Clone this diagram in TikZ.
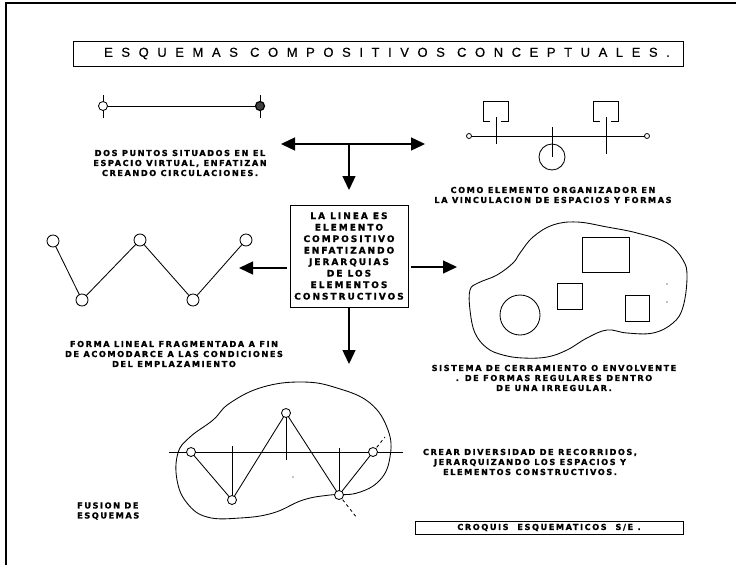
\documentclass[tikz,border=0pt]{standalone}
\usepackage{fontspec}
\setmainfont{DejaVu Sans}
\newfontfamily\capfont[LetterSpace=19, BoldFeatures={FakeBold=1.3}]{DejaVu Sans}
\newfontfamily\boxfont[LetterSpace=22, BoldFeatures={FakeBold=1.3}]{DejaVu Sans}
\newfontfamily\ttlfont[LetterSpace=66, FakeBold=0.4]{Liberation Sans}
\usetikzlibrary{arrows.meta,calc}
\begin{document}
\begin{tikzpicture}[x=1pt,y=-1pt,
  ln/.style={line width=0.85pt},
  arr/.style={line width=1.4pt,-{Triangle[length=14pt,width=13pt]}},
  dblarr/.style={line width=1.4pt,{Triangle[length=14pt,width=13pt]}-{Triangle[length=14pt,width=13pt]}},
  captxt/.style={font=\capfont\bfseries\fontsize{8.2}{10}\selectfont, align=center, inner sep=0pt},
  circ/.style={draw, fill=white, circle, line width=0.85pt, minimum size=12pt, inner sep=0pt},
  smallcirc/.style={draw, fill=white, circle, line width=0.8pt, minimum size=5pt, inner sep=0pt}]
\useasboundingbox (0,0) rectangle (736,565);
% frame
\draw[line width=2.2pt] (6,565) -- (6,3);
\draw[line width=1.3pt] (5,3) -- (736,3);
% title
\node[draw, line width=0.9pt, minimum width=610pt, minimum height=25pt, inner sep=0pt,
      font=\ttlfont\fontsize{13}{15}\selectfont] (title) at (378,53.5) {\hspace*{18pt}ESQUEMAS COMPOSITIVOS CONCEPTUALES.};
% top-left : two points
\coordinate (a1) at (103,106); \coordinate (a2) at (260,106);
\draw[ln] (a1) -- (a2);
\draw[ln] (103,95) -- (103,118);
\draw[ln] (260,95) -- (260,118);
\node[circ, minimum size=9pt] (p1) at (a1) {};
\node[circ, minimum size=9pt, line width=1.2pt, fill=black!75] (p2) at (a2) {};
\node[captxt] (dos) at (180,163) {DOS PUNTOS SITUADOS EN EL\\ESPACIO VIRTUAL, ENFATIZAN\\CREANDO CIRCULACIONES.};
% double arrow and down arrow
\coordinate (dl) at (281,144); \coordinate (dr) at (425,144);
\draw[dblarr] (dl) -- (dr);
\coordinate (dm) at (349,144); \coordinate (dt) at (349,190);
\draw[arr] (dm) -- (dt);
% central box
\node[draw, line width=0.9pt, minimum width=118pt, minimum height=102pt, inner sep=0pt, align=center,
      font=\boxfont\bfseries\fontsize{9}{11.5}\selectfont] (box) at (349,256)
      {LA LINEA ES\\ELEMENTO\\COMPOSITIVO\\ENFATIZANDO\\JERARQUIAS\\DE LOS\\ELEMENTOS\\CONSTRUCTIVOS};
\coordinate (lt) at (239,268); \coordinate (rt) at (457,267); \coordinate (bt) at (349,364);
\draw[arr, shorten <=3pt] (box.west |- lt) -- (lt);
\draw[arr, shorten <=3pt] (box.east |- rt) -- (rt);
\draw[arr] (box.south) -- (bt);
% top-right : organizer line
\coordinate (b1) at (469,136); \coordinate (b2) at (647,136);
\draw[ln] (b1) -- (b2);
\node[smallcirc] at (b1) {}; \node[smallcirc] at (b2) {};
\draw[ln] (490,121) -- (483,121) -- (483,101) -- (508,101) -- (508,121) -- (501,121);
\draw[ln] (496,117) -- (496,144);
\draw[ln] (600,121) -- (593,121) -- (593,101) -- (618,101) -- (618,121) -- (611,121);
\draw[ln] (606,117) -- (606,154);
\draw[ln] (552,127) -- (552,157);
\draw[ln] (552,157) circle (13);
\node[captxt] (como) at (553,195) {COMO ELEMENTO ORGANIZADOR EN\\LA VINCULACION DE ESPACIOS Y FORMAS};
% W line
\coordinate (w1) at (53,241); \coordinate (w2) at (82,300); \coordinate (w3) at (140,240);
\coordinate (w4) at (193,300); \coordinate (w5) at (246,240);
\draw[ln] (w1) -- (w2) -- (w3) -- (w4) -- (w5);
\foreach \p in {w1,w2,w3,w4,w5} \node[circ] at (\p) {};
\node[captxt] (forma) at (174,354) {FORMA LINEAL FRAGMENTADA A FIN\\DE ACOMODARCE A LAS CONDICIONES\\DEL EMPLAZAMIENTO};
% right blob
\draw[ln] plot[smooth cycle, tension=0.65] coordinates {(470,290) (478,283) (497,275) (513,263) (520,253) (533,237) (553,225) (577,222) (607,227) (637,233) (667,243) (683,260) (687,277) (683,307) (673,323) (653,333) (627,333) (607,330) (587,338) (567,350) (547,357) (523,358) (503,355) (487,348) (475,333) (470,310)};
\draw[ln] (582,237) rectangle (629,272);
\draw[ln] (557,283) rectangle (582,309);
\draw[ln] (625,295) rectangle (649,321);
\draw[ln] (520,315) circle (20);
\fill (667,284) circle (0.7); \fill (667,302) circle (0.7);
\node[captxt] (sis) at (554,378) {SISTEMA DE CERRAMIENTO O ENVOLVENTE\\. DE FORMAS REGULARES DENTRO\\DE UNA IRREGULAR.};
% bottom fusion
\draw[ln] plot[smooth cycle, tension=0.7] coordinates {(178,453) (190,437) (213,420) (230,403) (263,387) (303,382) (337,388) (370,403) (388,430) (390,457) (380,480) (357,493) (330,495) (303,500) (273,513) (240,518) (207,517) (187,503) (177,480)};
\coordinate (h1) at (169,452); \coordinate (h2) at (403,452);
\draw[ln] (h1) -- (h2);
\coordinate (f1) at (191,452); \coordinate (f2) at (232,500); \coordinate (f3) at (286,413);
\coordinate (f4) at (339,495); \coordinate (f5) at (373,452);
\draw[ln] (232,446) -- (f2);
\draw[ln] (f3) -- (286,460);
\draw[ln] (339,448) -- (f4);
\draw[ln] (f1) -- (f2) -- (f3) -- (f4) -- (f5);
\draw[ln, dashed] (f5) -- (385,437);
\draw[ln, dashed] (f4) -- (357,518);
\fill (293,477) circle (0.6);
\foreach \p in {f1,f2,f3,f4,f5} \node[circ, minimum size=9pt] at (\p) {};
\node[captxt] (crear) at (530,462) {CREAR DIVERSIDAD DE RECORRIDOS,\\JERARQUIZANDO LOS ESPACIOS Y\\ELEMENTOS CONSTRUCTIVOS.};
\node[captxt, align=left, anchor=west] (fus) at (77,511) {FUSION DE\\ESQUEMAS};
\node[captxt, draw, line width=0.9pt, minimum width=268pt, minimum height=13pt] (croq) at (549,527.5) {CROQUIS~~ESQUEMATICOS~~S/E~.};
\end{tikzpicture}
\end{document}
